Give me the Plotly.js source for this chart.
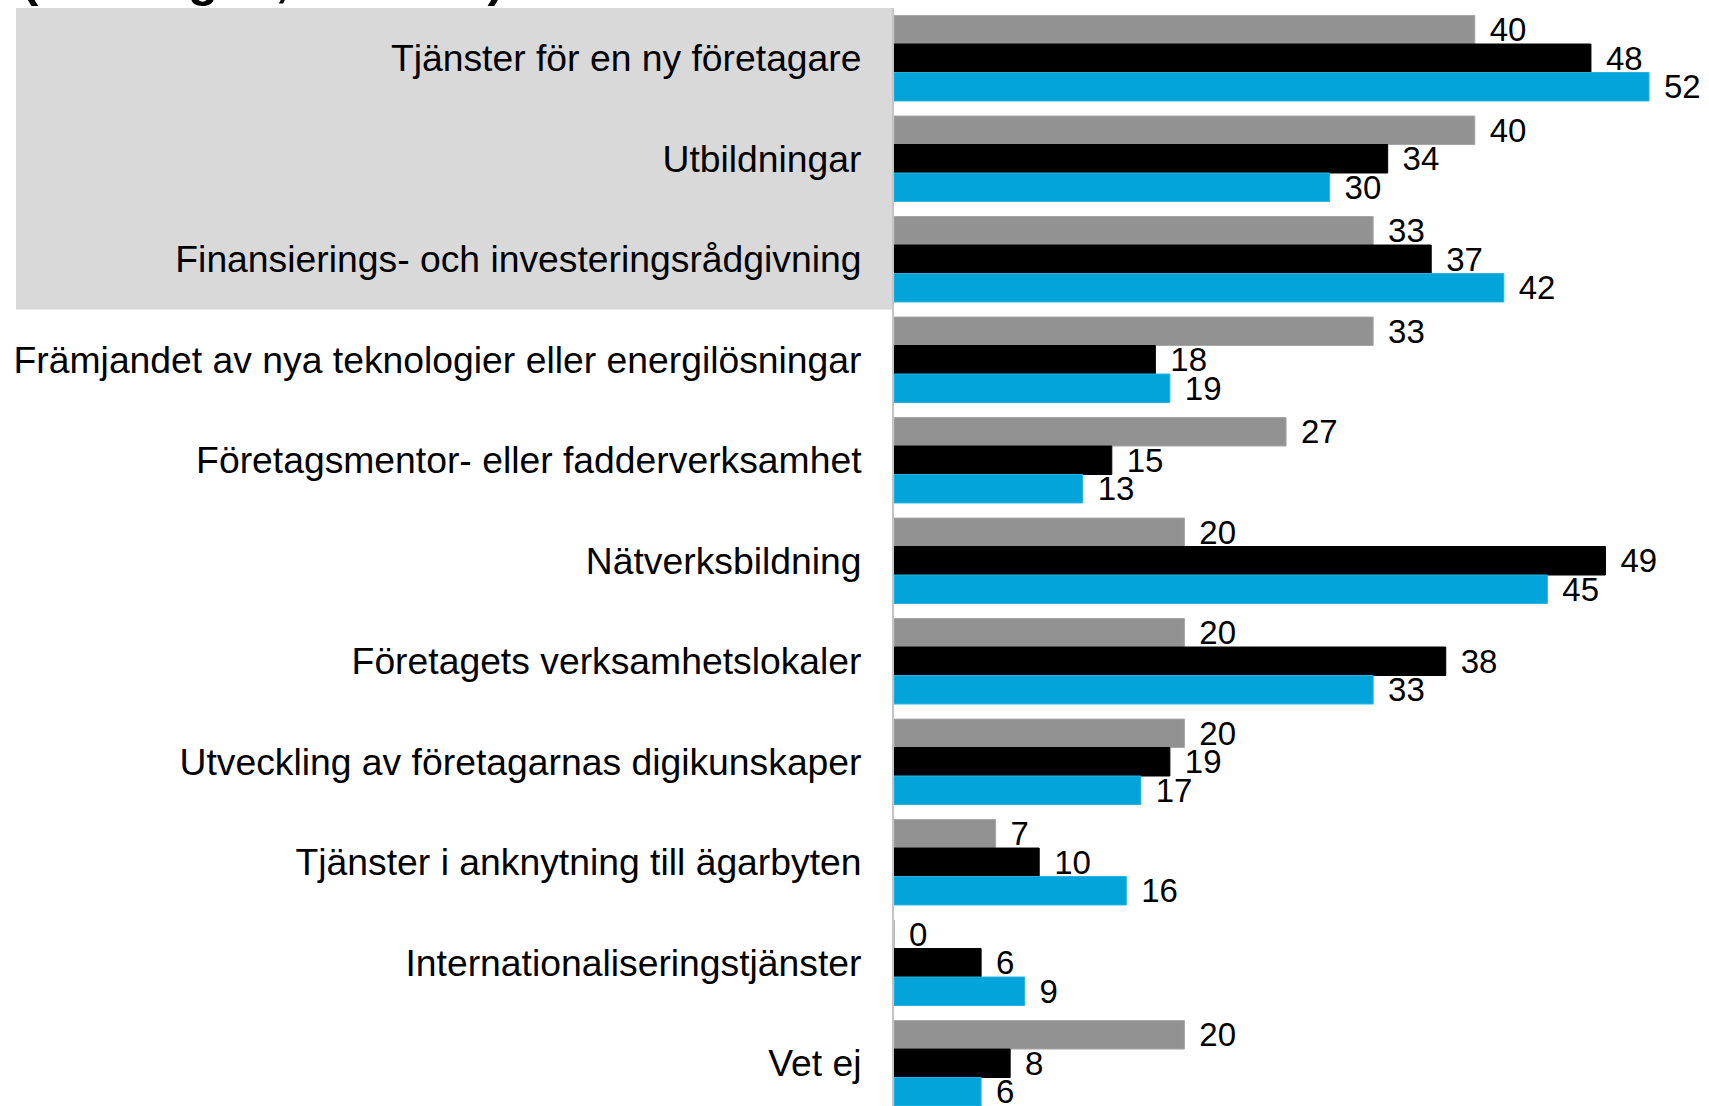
<!DOCTYPE html>
<html>
<head>
<meta charset="utf-8">
<script src="https://cdn.plot.ly/plotly-3.0.1.min.js"></script>
<style>html,body{margin:0;padding:0;background:#fff;}#chart{width:1709px;height:1106px;}</style>
</head>
<body>
<div id="chart"></div>
<script>
const categories = [
  "Tjänster för en ny företagare",
  "Utbildningar",
  "Finansierings- och investeringsrådgivning",
  "Främjandet av nya teknologier eller energilösningar",
  "Företagsmentor- eller fadderverksamhet",
  "Nätverksbildning",
  "Företagets verksamhetslokaler",
  "Utveckling av företagarnas digikunskaper",
  "Tjänster i anknytning till ägarbyten",
  "Internationaliseringstjänster",
  "Vet ej"
];
const seriesGray  = [40, 40, 33, 33, 27, 20, 20, 20, 7, 0, 20];
const seriesBlack = [48, 34, 37, 18, 15, 49, 38, 19, 10, 6, 8];
const seriesBlue  = [52, 30, 42, 19, 13, 45, 33, 17, 16, 9, 6];
const titleText = "(Företagen, andel %)";

const W = 1709, H = 1106;
const mL = 894, mT = 8;
const font = "Liberation Sans, Arial, sans-serif";

function mk(vals, color, lineColor, name) {
  return {
    type: "bar", orientation: "h", name: name,
    y: categories, x: vals,
    marker: {color: color, line: {color: lineColor, width: 1}},
    texttemplate: "\u00a0\u200a%{x}",
    textposition: "outside",
    constraintext: "none",
    cliponaxis: false,
    textfont: {family: font, size: 33, color: "#000"},
    hoverinfo: "skip"
  };
}

const data = [
  mk(seriesGray, "#929292", "#a6a6a6", "Serie 1"),
  mk(seriesBlack, "#000000", "#000000", "Serie 2"),
  mk(seriesBlue, "#03a4d9", "#2bb3e0", "Serie 3")
];

const layout = {
  width: W, height: H,
  margin: {l: mL, r: 0, t: mT, b: 0, pad: 0},
  paper_bgcolor: "#fff", plot_bgcolor: "rgba(0,0,0,0)",
  showlegend: false,
  barmode: "group", bargap: 0.15, bargroupgap: 0,
  xaxis: {range: [0, 56.13], showgrid: false, zeroline: false, showticklabels: false, showline: false, fixedrange: true},
  yaxis: {
    type: "category", range: [10.425, -0.5],
    showgrid: false, zeroline: false,
    showline: true, linecolor: "#c4c4c4", linewidth: 2,
    ticks: "", ticklabelstandoff: 23,
    tickfont: {family: font, size: 37.3, color: "#000"},
    fixedrange: true
  },
  shapes: [{
    type: "rect", layer: "below",
    xref: "paper", yref: "y",
    x0: (16 - mL) / (W - mL), x1: 0,
    y0: -0.5, y1: 2.5,
    fillcolor: "#d9d9d9", line: {width: 0}
  }],
  annotations: [{
    xref: "paper", yref: "paper",
    x: (20 - mL) / (W - mL), y: 1, xanchor: "left", yanchor: "bottom",
    yshift: 0,
    text: "<b>" + titleText + "</b>", showarrow: false,
    font: {family: font, size: 49, color: "#000"}
  }]
};

Plotly.newPlot("chart", data, layout, {displayModeBar: false, staticPlot: true});
</script>
</body>
</html>
